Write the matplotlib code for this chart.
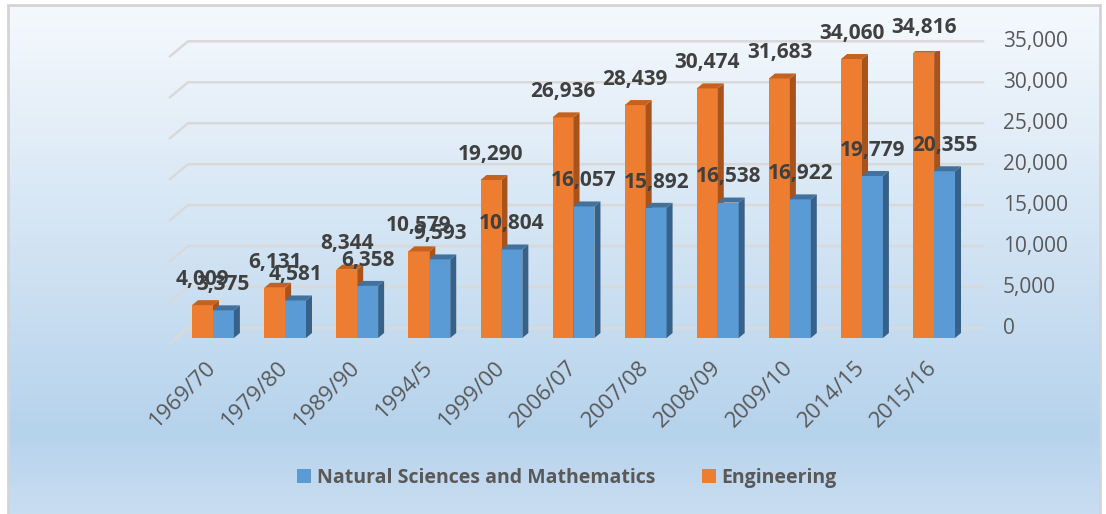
import numpy as np
import matplotlib
matplotlib.use('Agg')
import matplotlib.pyplot as plt
from matplotlib.patches import Polygon, Patch, Rectangle

plt.rcParams['font.family'] = ['Open Sans', 'DejaVu Sans']

# data
years = ['1969/70', '1979/80', '1989/90', '1994/5', '1999/00', '2006/07',
         '2007/08', '2008/09', '2009/10', '2014/15', '2015/16']
natural_sci = [3375, 4581, 6358, 9593, 10804, 16057, 15892, 16538, 16922, 19779, 20355]
engineering = [4009, 6131, 8344, 10579, 19290, 26936, 28439, 30474, 31683, 34060, 34816]
y_ticks = [0, 5000, 10000, 15000, 20000, 25000, 30000, 35000]

ORANGE, ORANGE_SIDE, ORANGE_TOP = '#ed7d31', '#a9531c', '#c5621f'
BLUE, BLUE_SIDE, BLUE_TOP = '#5b9bd5', '#36618a', '#41719c'
GRID = '#d9d9d9'
TXT = '#595959'
LBL = '#404040'

W, H = 1106, 514
fig = plt.figure(figsize=(W / 100, H / 100), dpi=100)
fig.patch.set_facecolor('white')

# gradient background inside a thin frame
bg = fig.add_axes([8 / W, 0, (1100 - 8) / W, (H - 6) / H], zorder=-10)
stops = [0.0, 0.84, 1.0]
cols = np.array([[0.961, 0.976, 0.992],
                 [0.714, 0.827, 0.925],
                 [0.788, 0.867, 0.945]])
t = np.linspace(0, 1, 300)
grad = np.stack([np.interp(t, stops, cols[:, k]) for k in range(3)], axis=1)
bg.imshow(grad.reshape(300, 1, 3), aspect='auto', extent=[0, 1, 0, 1])
bg.axis('off')
fig.add_artist(Rectangle((7.5 / W, -0.01), (1100 - 7.5) / W, (H - 5) / H + 0.01, fill=False,
                         ec='#d4d4d4', lw=2, transform=fig.transFigure, zorder=-5))

# front plane of the pseudo-3D chart
x_lo, x_hi = -0.596, 10.47
ax_w_px, ax_h_px = 798, 286.7
ax = fig.add_axes([170 / W, (H - 338) / H, ax_w_px / W, ax_h_px / H])
ax.set_xlim(x_lo, x_hi)
ax.set_ylim(0, 35000)
ax.patch.set_alpha(0)
for s in ax.spines.values():
    s.set_visible(False)
ax.set_yticks([])

px_x = ax_w_px / (x_hi - x_lo)
px_y = ax_h_px / 35000


def dx(p):
    return p / px_x


def dy(p):
    return p / px_y


# back wall gridlines with side-wall stub + right axis labels
for v in y_ticks:
    yb = v + dy(10)
    xs = [x_lo, x_lo + dx(18), x_lo + dx(813)]
    ax.plot(xs, [yb - dy(15), yb, yb], color=GRID, lw=1.8, clip_on=False, zorder=0)
    ax.text(x_lo + dx(833), yb, f'{v:,}', ha='left', va='center', fontsize=15,
            color=TXT, clip_on=False)

x = np.arange(len(years))
w = 0.29
ddx, ddy = dx(6), dy(5)


def draw_3d(bars, side_c, top_c, z):
    for b in bars:
        x0, x1, h = b.get_x(), b.get_x() + b.get_width(), b.get_height()
        ax.add_patch(Polygon([(x1, 0), (x1 + ddx, ddy), (x1 + ddx, h + ddy), (x1, h)],
                             closed=True, fc=side_c, ec='none', zorder=z))
        ax.add_patch(Polygon([(x0, h), (x0 + ddx, h + ddy), (x1 + ddx, h + ddy), (x1, h)],
                             closed=True, fc=top_c, ec='none', zorder=z))


eng_bars = ax.bar(x - w / 2, engineering, w, color=ORANGE, zorder=3)
draw_3d(eng_bars, ORANGE_SIDE, ORANGE_TOP, 3)
nat_bars = ax.bar(x + w / 2, natural_sci, w, color=BLUE, zorder=4)
draw_3d(nat_bars, BLUE_SIDE, BLUE_TOP, 4)

for bars, vals in [(eng_bars, engineering), (nat_bars, natural_sci)]:
    for b, v in zip(bars, vals):
        ax.annotate(f'{v:,}', (b.get_x() + b.get_width() / 2, v), xytext=(0, 18.5),
                    textcoords='offset points', ha='center', va='center',
                    fontsize=15, fontweight='bold', color=LBL, zorder=10,
                    annotation_clip=False)

ax.set_xticks(x, years, rotation=45, ha='right', va='center', rotation_mode='anchor',
              fontsize=16, color=TXT)
ax.tick_params(axis='x', length=0, pad=19)

handles = [Patch(facecolor=BLUE), Patch(facecolor=ORANGE)]
fig.legend(handles, ['Natural Sciences and Mathematics', 'Engineering'], loc='center',
           bbox_to_anchor=(567 / W, 1 - 478 / H), ncol=2, frameon=False,
           prop={'weight': 'bold', 'size': 14}, labelcolor=TXT, handlelength=0.7,
           handleheight=0.7, handletextpad=0.3, columnspacing=2.4)

fig.savefig('out.png', dpi=100)
